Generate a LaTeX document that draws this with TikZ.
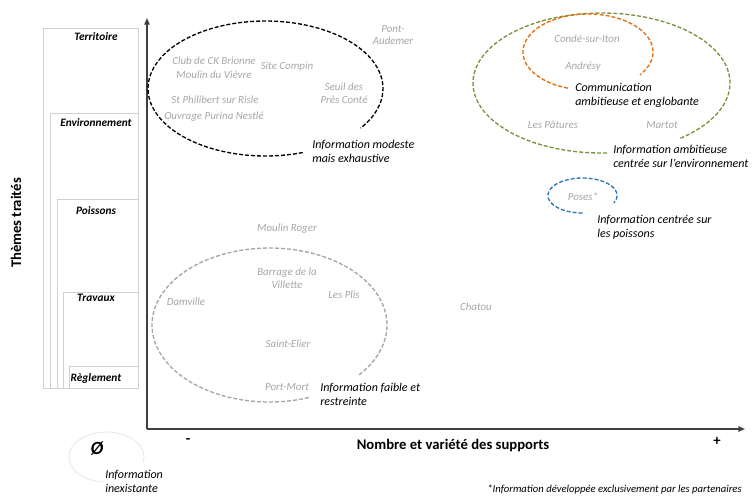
\documentclass[tikz,border=0pt]{standalone}
\usepackage{fontspec}
\setmainfont{Carlito}
\usetikzlibrary{arrows.meta}

\definecolor{grislieu}{HTML}{A6A6A6}
\definecolor{griscadre}{HTML}{D0D0D0}
\definecolor{vertinfo}{HTML}{77933C}
\definecolor{orangeinfo}{HTML}{E46C0A}
\definecolor{bleuinfo}{HTML}{2E75B6}
\definecolor{axegris}{HTML}{404040}

\begin{document}
\begin{tikzpicture}[x=0.75pt,y=-0.75pt,
  lieu/.style={font=\fontsize{8.2}{9.5}\selectfont\itshape,text=grislieu,align=center,inner sep=0pt},
  info/.style={font=\fontsize{9}{10.5}\selectfont\itshape,align=left,anchor=west,inner sep=0pt},
  theme/.style={font=\fontsize{8.5}{10}\selectfont\bfseries\itshape,inner sep=0pt},
  axe/.style={draw=axegris,line width=1.1pt,-{Triangle[length=5pt,width=4pt]}},
  groupe/.style={dash pattern=on 3pt off 1.5pt,line width=1pt}]

\useasboundingbox (0,0) rectangle (752,501);

% cadres des themes
\foreach \g/\h/\yl/\t [count=\i] in {43/28/37/Territoire,50/113/123/Environnement,57/199/211/Poissons,63/292/298/Travaux,69/366/378/Règlement}{
  \draw[griscadre,line width=0.5pt] (\g,\h) rectangle (138,388);
  \node[theme] (theme\i) at (96,\yl) {\t};
}
\node[rotate=90,font=\fontsize{11}{13}\selectfont\bfseries] (axey) at (16,223) {Thèmes traités};

% axes
\coordinate (origine) at (147,429);
\coordinate (haut) at (147,18);
\coordinate (droite) at (745,429);
\draw[axe] (origine) -- (haut);
\draw[axe] (origine) -- (droite);
\node[font=\fontsize{11}{13}\selectfont\bfseries] (moins) at (188,441) {-};
\node[font=\fontsize{11}{13}\selectfont\bfseries] (plus) at (717,441) {+};
\node[font=\fontsize{11}{13}\selectfont\bfseries] (axex) at (453,445) {Nombre et variété des supports};

% groupes
\foreach \cx/\cy/\rx/\ry/\a/\b/\c in {265.5/88.5/117.5/67.5/71.5/396/black,
                                       269.5/325/117.5/77/70.5/401/grislieu,
                                       601.5/83/128.5/70/87.5/412.6/vertinfo,
                                       588/52/65/38/108/397/orangeinfo,
                                       582.5/195.5/34.5/17.5/90/385/bleuinfo}{
  \draw[groupe,\c] plot[domain=\a:\b,samples=90,smooth] ({\cx+\rx*cos(\x)},{\cy+\ry*sin(\x)});
}

% information modeste
\node[lieu] (pontaudemer) at (393,35) {Pont-\\Audemer};
\node[lieu] (brionne) at (214,61) {Club de CK Brionne};
\node[lieu] (vievre) at (214,75) {Moulin du Vièvre};
\node[lieu] (compin) at (287,67) {Site Compin};
\node[lieu] (seuil) at (344,93) {Seuil des\\Près Conté};
\node[lieu] (philibert) at (215,100) {St Philibert sur Risle};
\node[lieu] (purina) at (214,117) {Ouvrage Purina Nestlé};
\node[info] (modeste) at (312,151) {Information modeste\\mais exhaustive};

% information ambitieuse
\node[lieu] (conde) at (587,39) {Condé-sur-Iton};
\node[lieu] (andresy) at (583,67) {Andrésy};
\node[info] (communication) at (575,95) {Communication\\ambitieuse et englobante};
\node[lieu] (patures) at (553,125) {Les Pâtures};
\node[lieu] (martot) at (662,125) {Martot};
\node[info] (ambitieuse) at (613,156) {Information ambitieuse\\centrée sur l’environnement};

% poissons
\node[lieu] (poses) at (583,197) {Poses*};
\node[info] (poissons) at (597,227) {Information centrée sur\\les poissons};

% information faible
\node[lieu] (roger) at (287,229) {Moulin Roger};
\node[lieu] (villette) at (287,278) {Barrage de la\\Villette};
\node[lieu] (plis) at (344,295) {Les Plis};
\node[lieu] (damville) at (186,302) {Damville};
\node[lieu] (elier) at (288,344) {Saint-Elier};
\node[lieu] (portmort) at (287,387) {Port-Mort};
\node[lieu] (chatou) at (476,307) {Chatou};
\node[info] (faible) at (320,394) {Information faible et\\restreinte};

% information inexistante
\draw[gray!20,line width=0.6pt] plot[domain=95:372,samples=60,smooth] ({106.5+37.5*cos(\x)},{457+25*sin(\x)});
\node[font=\fontsize{14}{16}\selectfont\bfseries\itshape] (vide) at (97,449) {Ø};
\node[info] (inexistante) at (105,481) {Information\\inexistante};

\node[font=\fontsize{8}{10}\selectfont\itshape,anchor=east,inner sep=0pt] (note) at (742,490) {*Information développée exclusivement par les partenaires};

\end{tikzpicture}
\end{document}
